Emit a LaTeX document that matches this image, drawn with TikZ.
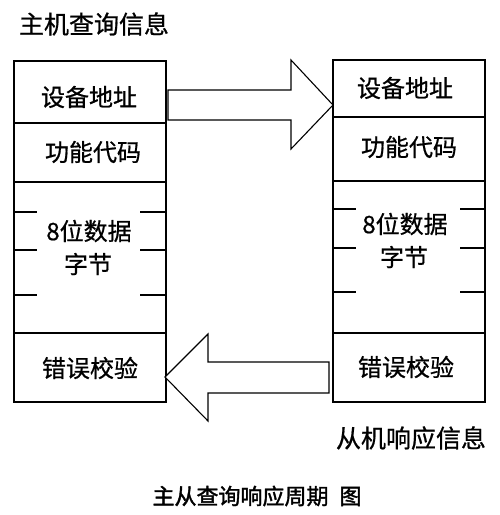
\documentclass[tikz,border=0pt]{standalone}
\usepackage{fontspec}
\setmainfont{Noto Sans CJK SC}[FakeBold=0.7]
\newfontfamily\capfont[FakeBold=1.6]{Noto Sans CJK SC}
\begin{document}
\begin{tikzpicture}[x=1pt,y=-1pt,
  cell/.style={draw, line width=1.1pt, minimum width=152pt, inner sep=0pt, outer sep=0pt, anchor=north west},
  lab/.style={font=\fontsize{24}{24}\selectfont, inner sep=0pt},
  title/.style={font=\fontsize{25}{25}\selectfont, inner sep=0pt},
  div/.style={line width=2pt},
  tickmark/.style={line width=1.8pt},
  bigarrow/.style={draw, line width=1.1pt, line join=miter, fill=white}]
\useasboundingbox (0,0) rectangle (500,515);
\fill[white] (0,0) rectangle (500,515);

% left frame (master query)
\node[cell, minimum height=62pt] (ladr) at (14,61) {};
\node[cell, minimum height=59pt] (lfn) at (14,123) {};
\node[cell, minimum height=151pt] (ldat) at (14,182) {};
\node[cell, minimum height=69pt] (lcrc) at (14,333) {};
% right frame (slave response)
\node[cell, minimum height=57pt] (radr) at (333,60) {};
\node[cell, minimum height=64pt] (rfn) at (333,117) {};
\node[cell, minimum height=152pt] (rdat) at (333,181) {};
\node[cell, minimum height=69pt] (rcrc) at (333,333) {};

% thick dividers
\foreach \c in {ladr,lfn,ldat,radr,rfn,rdat}
  \draw[div] (\c.south west) -- (\c.south east);

% tick marks
\foreach \y in {212,250,295} {
  \draw[tickmark] (14,\y) -- (37,\y);
  \draw[tickmark] (140,\y) -- (166,\y);
}
\foreach \y in {209,248,292} {
  \draw[tickmark] (333,\y) -- (356,\y);
  \draw[tickmark] (460,\y) -- (485,\y);
}

% labels
\node[lab] (tladr) at (89,97) {设备地址};
\node[lab] (tlfn) at (93,152) {功能代码};
\node[lab] (tldat1) at (89,231) {8位数据};
\node[lab] (tldat2) at (88,264) {字节};
\node[lab] (tlcrc) at (90,368) {错误校验};
\node[lab] (tradr) at (405,88) {设备地址};
\node[lab] (trfn) at (409,147) {功能代码};
\node[lab] (trdat1) at (405,224) {8位数据};
\node[lab] (trdat2) at (404,257) {字节};
\node[lab] (trcrc) at (406,367) {错误校验};

\node[title] (master) at (94,24) {主机查询信息};
\node[title] (slave) at (411,438) {从机响应信息};
\node[inner sep=0pt, font=\capfont\fontsize{22}{22}\selectfont] (cap) at (257,496) {主从查询响应周期\hspace{0.5em}图};

% big arrows
\coordinate (a1t) at (333,105);
\draw[bigarrow] (168,90) -- (291,90) -- (291,60) -- (a1t) -- (291,149) -- (291,120) -- (168,120) -- cycle;
\coordinate (a2t) at (165,377);
\draw[bigarrow] (a2t) -- (208,334) -- (208,362) -- (329,362) -- (329,393) -- (208,393) -- (208,421) -- cycle;
\end{tikzpicture}
\end{document}
